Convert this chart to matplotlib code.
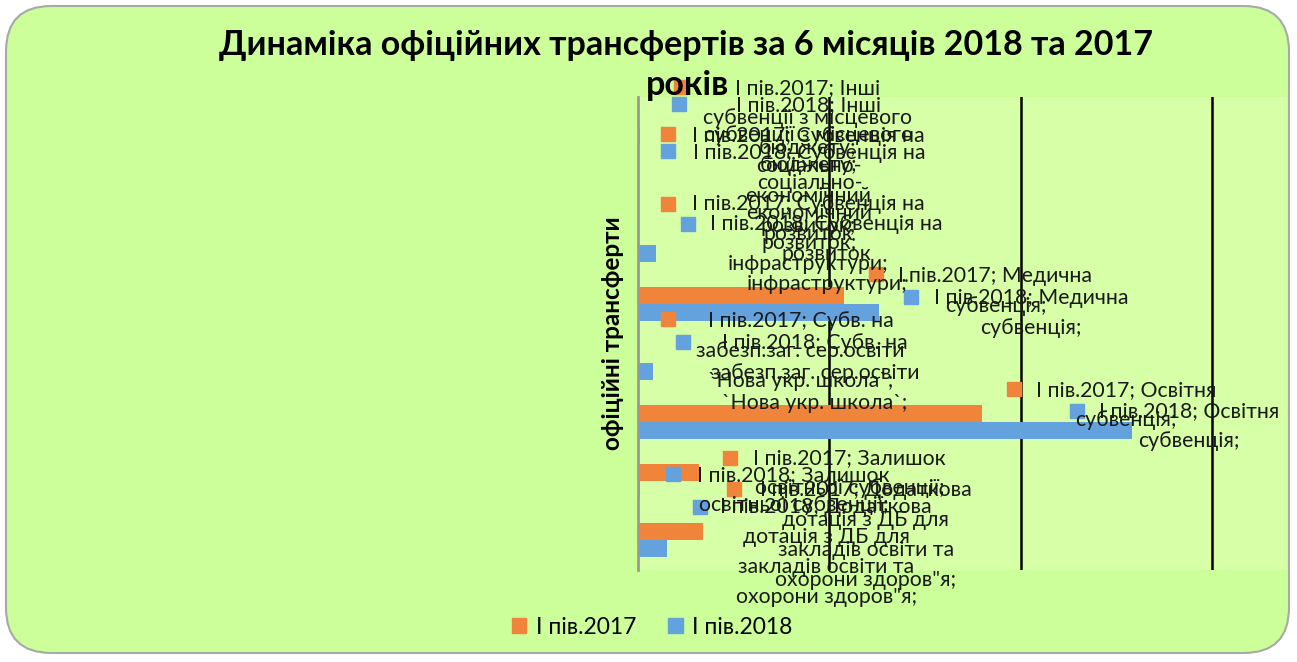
import matplotlib
matplotlib.use('Agg')
import matplotlib.pyplot as plt
import matplotlib.transforms as mtransforms
from matplotlib.patches import FancyBboxPatch, Patch

plt.rcParams['font.family'] = ['Lato', 'Noto Sans', 'DejaVu Sans']

# data (categories from top to bottom)
categories = [
    ['Інші', 'субвенції з місцевого', 'бюджету;'],
    ['Субвенція на', 'соціально-', 'економічний', 'розвиток;'],
    ['Субвенція на', 'розвиток', 'інфраструктури;'],
    ['Медична', 'субвенція;'],
    ['Субв. на', 'забезп.заг. сер.освіти', '`Нова укр. школа`;'],
    ['Освітня', 'субвенція;'],
    ['Залишок', 'освітньої субвенції;'],
    ['Додаткова', 'дотація з ДБ для', 'закладів освіти та', 'охорони здоров"я;'],
]
series_names = ['І пів.2017', 'І пів.2018']
label_prefix_2017 = ['І пів.2017', 'І пів.2017', 'І пів.2017', 'І.пів.2017',
                     'І пів.2017', 'І пів.2017', 'І пів.2017', 'І пів.2017']
label_prefix_2018 = ['І пів.2018'] * 8
v2017 = [0, 0, 0, 108, 0, 180, 32, 34]
v2018 = [1.5, 0, 9.5, 126, 8, 258, 1.5, 15.5]

# label layout: offsets in pixels from bar end (x right, y down)
marker_off_2017 = [(43, -31), (30, -43), (30, -32), (32, -21), (30, -36), (32, -25), (31, -15), (31, -43)]
text_off_2017 = [(170, -30), (171, -41), (171, -32), (151, -19), (163, -34), (144, -24), (151, -15), (163, -42)]
marker_off_2018 = [(39, -31), (30, -43), (32, -29), (32, -15), (30, -30), (-55, -20), (33, -16), (33, -42)]
text_off_2018 = [(168, -30), (172, -41), (171, -29), (152, -14), (162, -29), (57, -20), (153, -15), (159, -42)]

c2017 = '#F0843A'
c2018 = '#64A2DE'
W, H = 1297, 662

fig = plt.figure(figsize=(W / 100, H / 100), dpi=100)
fig.patch.set_facecolor('white')
bg = FancyBboxPatch((6 / W, 9 / H), 1283 / W, 647 / H,
                    boxstyle='round,pad=0,rounding_size=0.035',
                    transform=fig.transFigure, facecolor='#CCFF99',
                    edgecolor='#A8A8A8', linewidth=1.5, mutation_aspect=W / H,
                    zorder=-10)
fig.patches.append(bg)

ax = fig.add_axes([637.5 / W, 1 - 570 / H, (1287 - 637.5) / W, (570 - 97) / H])
ax.set_zorder(1)
ax.set_facecolor('#D7FFA8')
n = len(categories)
ypos = [n - 1 - i for i in range(n)]
bh = 0.288
ax.barh([y + bh / 2 for y in ypos], v2017, height=bh, color=c2017, zorder=2)
ax.barh([y - bh / 2 for y in ypos], v2018, height=bh, color=c2018, zorder=2)
ax.set_xlim(0, 339)
ax.set_ylim(-0.5, n - 0.5)
ax.set_xticks([100, 200, 300])
ax.set_yticks([])
ax.tick_params(axis='x', length=0, labelbottom=False)
ax.grid(axis='x', color='black', linewidth=1.8, zorder=1)
ax.set_axisbelow(True)
for s in ['top', 'right', 'bottom']:
    ax.spines[s].set_visible(False)
ax.spines['left'].set_color('#999999')
ax.spines['left'].set_linewidth(2)

fs = 15.3
step = 30


def put_label(x, y, prefix, lines, moff, toff, color):
    tr = mtransforms.offset_copy(ax.transData, fig=fig, x=moff[0], y=-moff[1], units='dots')
    ax.plot([x], [y], marker='s', ms=10, color=color, transform=tr, clip_on=False, zorder=4)
    text_lines = [prefix + '; ' + lines[0]] + lines[1:]
    for k, t in enumerate(text_lines):
        ax.annotate(t, xy=(x, y), xytext=(toff[0], -(toff[1] + k * step)),
                    textcoords='offset pixels', ha='center', va='center',
                    fontsize=fs, color='#1a1a1a', zorder=5, annotation_clip=False)


for i in range(n):
    put_label(v2017[i], ypos[i] + bh / 2, label_prefix_2017[i], categories[i],
              marker_off_2017[i], text_off_2017[i], c2017)
    put_label(v2018[i], ypos[i] - bh / 2, label_prefix_2018[i], categories[i],
              marker_off_2018[i], text_off_2018[i], c2018)

fig.text(686 / W, 1 - 45 / H, 'Динаміка офіційних трансфертів за 6 місяців 2018 та 2017',
         ha='center', va='center', fontsize=24.5, fontweight='bold')
fig.text(688 / W, 1 - 85 / H, 'років', ha='center', va='center', fontsize=24.5, fontweight='bold')
fig.text(612 / W, 1 - 333 / H, 'офіційні трансферти', rotation=90, ha='center', va='center',
         fontsize=17.5, fontweight='bold')

handles = [Patch(color=c2017), Patch(color=c2018)]
fig.legend(handles, series_names, loc='center', bbox_to_anchor=(652 / W, 1 - 627 / H),
           ncol=2, frameon=False, fontsize=16.5, handlelength=0.65, handleheight=0.65,
           handletextpad=0.4, columnspacing=1.4)

fig.savefig('out.png', dpi=100)
